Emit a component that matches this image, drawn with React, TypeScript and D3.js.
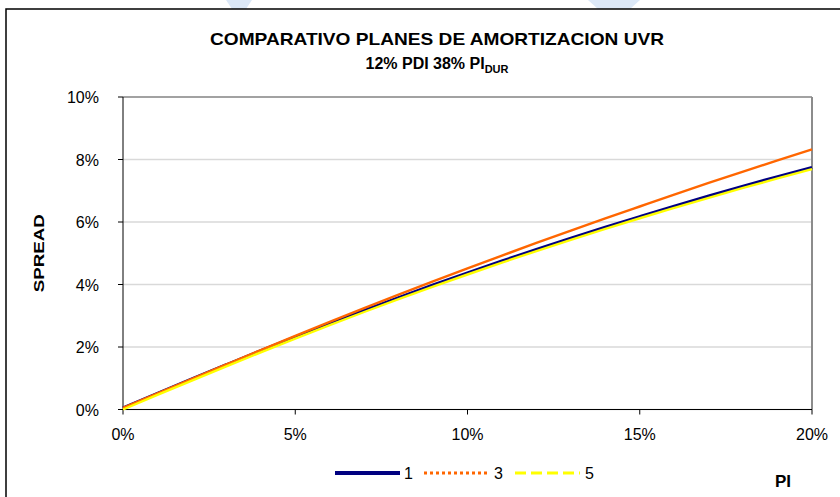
import React from "react";
import * as d3 from "d3";

// PI values (%) along the x axis
const piValues = [0, 1, 2, 3, 4, 5, 6, 7, 8, 9, 10, 11, 12, 13, 14, 15, 16, 17, 18, 19, 20];

// Spread (%) per amortization plan
const plan1 = [0.05, 0.515, 0.975, 1.43, 1.88, 2.32, 2.75, 3.17, 3.58, 3.98, 4.37, 4.75, 5.12, 5.48, 5.83, 6.17, 6.505, 6.83, 7.145, 7.45, 7.745];
const plan3 = [0.05, 0.517, 0.981, 1.443, 1.903, 2.356, 2.802, 3.241, 3.673, 4.097, 4.515, 4.925, 5.329, 5.725, 6.114, 6.496, 6.876, 7.249, 7.615, 7.973, 8.325];
const plan5 = [0.0, 0.465, 0.925, 1.38, 1.83, 2.27, 2.70, 3.12, 3.53, 3.93, 4.32, 4.70, 5.07, 5.43, 5.78, 6.12, 6.45, 6.775, 7.09, 7.395, 7.69];

const seriesNames = ["1", "3", "5"];
const yTicks = [0, 2, 4, 6, 8, 10];
const xTicks = [0, 5, 10, 15, 20];

const W = 840;
const H = 497;
const FONT = "'Liberation Sans', Arial, sans-serif";

const plot = { left: 123, right: 812, top: 97, bottom: 409.5 };

export default function App() {
  const x = d3.scaleLinear().domain([0, 20]).range([plot.left, plot.right]);
  const y = d3.scaleLinear().domain([0, 10]).range([plot.bottom, plot.top]);

  const line = d3
    .line<number>()
    .x((_, i) => x(piValues[i]))
    .y((d) => y(d))
    .curve(d3.curveMonotoneX);

  const series = [
    { name: seriesNames[0], values: plan1, color: "#000080", width: 3.2, dash: "none" },
    { name: seriesNames[1], values: plan3, color: "#FF6600", width: 2.4, dash: "3 3" },
    { name: seriesNames[2], values: plan5, color: "#FFFF00", width: 2.4, dash: "11 5" },
  ];

  const legendItems = [
    { x0: 335, x1: 400, tx: 404 },
    { x0: 424, x1: 490, tx: 494 },
    { x0: 515, x1: 580, tx: 585 },
  ];
  const legendY = 473;

  return (
    <svg
      width={W}
      height={H}
      style={{ position: "absolute", left: 0, top: 0, background: "#fff" }}
      fontFamily={FONT}
    >
      {/* faint background shapes above the frame */}
      <polygon points="226,0 252,0 246,9 232,9" fill="#dce8f7" />
      <polygon points="588,0 640,0 630,9 598,9" fill="#dce8f7" />

      {/* chart frame */}
      <rect x={6} y={9} width={W + 10} height={H + 10} fill="#fff" stroke="#000" strokeWidth={1.5} />

      {/* title */}
      <text x={437} y={45} textAnchor="middle" fontSize={17} fontWeight="bold" textLength={454} lengthAdjust="spacingAndGlyphs">
        COMPARATIVO PLANES DE AMORTIZACION UVR
      </text>
      <text x={437} y={69} textAnchor="middle" fontSize={16} fontWeight="bold">
        12% PDI 38% PI
        <tspan fontSize={11} dy={4}>DUR</tspan>
      </text>

      {/* horizontal gridlines */}
      {yTicks.map((t) => (
        <line key={"g" + t} x1={plot.left} x2={plot.right} y1={y(t)} y2={y(t)} stroke="#d9d9d9" strokeWidth={1.5} />
      ))}

      {/* plot area border */}
      <line x1={plot.left} x2={plot.right} y1={plot.top} y2={plot.top} stroke="#8c8c8c" strokeWidth={1.5} />
      <line x1={plot.right} x2={plot.right} y1={plot.top} y2={plot.bottom} stroke="#8c8c8c" strokeWidth={2} />

      {/* axes */}
      <line x1={plot.left} x2={plot.left} y1={plot.top} y2={plot.bottom} stroke="#000" strokeWidth={1} />
      <line x1={plot.left} x2={plot.right} y1={plot.bottom} y2={plot.bottom} stroke="#000" strokeWidth={1} />

      {yTicks.map((t) => (
        <g key={"y" + t}>
          <line x1={plot.left - 5} x2={plot.left} y1={y(t)} y2={y(t)} stroke="#000" />
          <text x={plot.left - 24} y={y(t) + 6} textAnchor="end" fontSize={16}>
            {t}%
          </text>
        </g>
      ))}
      {xTicks.map((t) => (
        <g key={"x" + t}>
          <line x1={x(t)} x2={x(t)} y1={plot.bottom} y2={plot.bottom + 5} stroke="#000" />
          <text x={x(t)} y={plot.bottom + 30} textAnchor="middle" fontSize={16}>
            {t}%
          </text>
        </g>
      ))}

      {/* axis titles */}
      <text
        transform={`translate(44, ${(plot.top + plot.bottom) / 2}) rotate(-90)`}
        textAnchor="middle"
        fontSize={15}
        fontWeight="bold"
        textLength={78}
        lengthAdjust="spacingAndGlyphs"
      >
        SPREAD
      </text>
      <text x={783} y={487} textAnchor="middle" fontSize={17} fontWeight="bold">
        PI
      </text>

      {/* series */}
      {series.map((s) => (
        <path key={s.name} d={line(s.values) || ""} fill="none" stroke={s.color} strokeWidth={s.width} />
      ))}

      {/* legend */}
      {series.map((s, i) => {
        const it = legendItems[i];
        return (
          <g key={"l" + s.name}>
            <line
              x1={it.x0}
              x2={it.x1}
              y1={legendY}
              y2={legendY}
              stroke={s.color}
              strokeWidth={i === 0 ? 4 : 3}
              strokeDasharray={s.dash}
            />
            <text x={it.tx} y={legendY + 6} fontSize={16}>
              {s.name}
            </text>
          </g>
        );
      })}
    </svg>
  );
}
